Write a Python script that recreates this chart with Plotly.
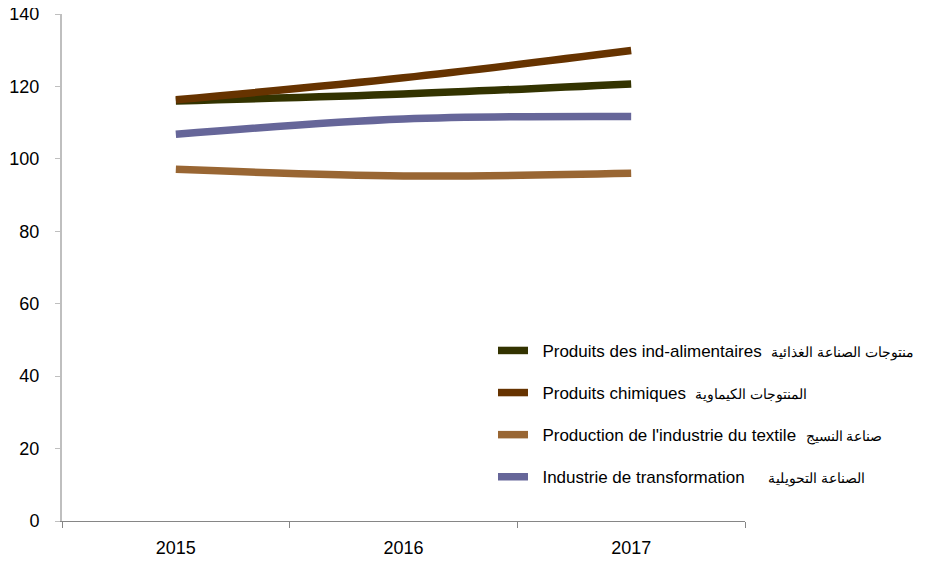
import plotly.graph_objects as go

years = ["2015", "2016", "2017"]
alimentaires = [116.0, 117.9, 120.7]
chimiques = [116.3, 122.4, 129.9]
textile = [97.1, 95.3, 96.0]
transformation = [106.8, 111.0, 111.7]

labels_fr = [
    "Produits des ind-alimentaires",
    "Produits chimiques",
    "Production de l'industrie du textile",
    "Industrie de transformation",
]
labels_ar = [
    "منتوجات الصناعة الغذائية",
    "المنتوجات الكيماوية",
    "صناعة النسيج",
    "الصناعة التحويلية",
]
gaps = ["  ", "  ", "  ", "     "]
colors = ["#333300", "#663300", "#996633", "#666699"]
series = [alimentaires, chimiques, textile, transformation]

fig = go.Figure()
for i, vals in enumerate(series):
    name = ("\u00a0\u00a0" + labels_fr[i] + gaps[i]
            + '<span style="font-size:14px">' + labels_ar[i] + "</span>")
    fig.add_trace(go.Scatter(x=years, y=vals, name=name, mode="lines",
                             line=dict(color=colors[i], width=7.5, shape="spline"),
                             legendgroup=str(i)))

# the page body adds 8px on the left and top
fig.update_layout(
    width=929, height=561,
    margin=dict(l=54, r=192, t=6, b=48),
    plot_bgcolor="white", paper_bgcolor="white",
    font=dict(family="Liberation Sans, Arial, sans-serif", size=18, color="#000000"),
    showlegend=True,
    legend=dict(x=0.631, y=0.371, xanchor="left", yanchor="top",
                traceorder="grouped", tracegroupgap=17,
                font=dict(size=17), bgcolor="rgba(0,0,0,0)"),
)
fig.update_xaxes(type="category", range=[-0.5, 2.5], showgrid=False, zeroline=False,
                 showline=True, linecolor="#868686", linewidth=1, automargin=False,
                 ticks="outside", tickson="boundaries", ticklen=6, tickcolor="#868686",
                 ticklabelstandoff=10, tickfont=dict(size=18))
fig.update_yaxes(range=[0, 140], dtick=20, showgrid=False, zeroline=False,
                 showline=True, linecolor="#BFBFBF", linewidth=2, automargin=False,
                 ticks="outside", ticklen=5, tickcolor="#BFBFBF",
                 ticklabelstandoff=12, ticklabeloverflow="allow",
                 tickfont=dict(size=18))

fig.write_html("out.html")
